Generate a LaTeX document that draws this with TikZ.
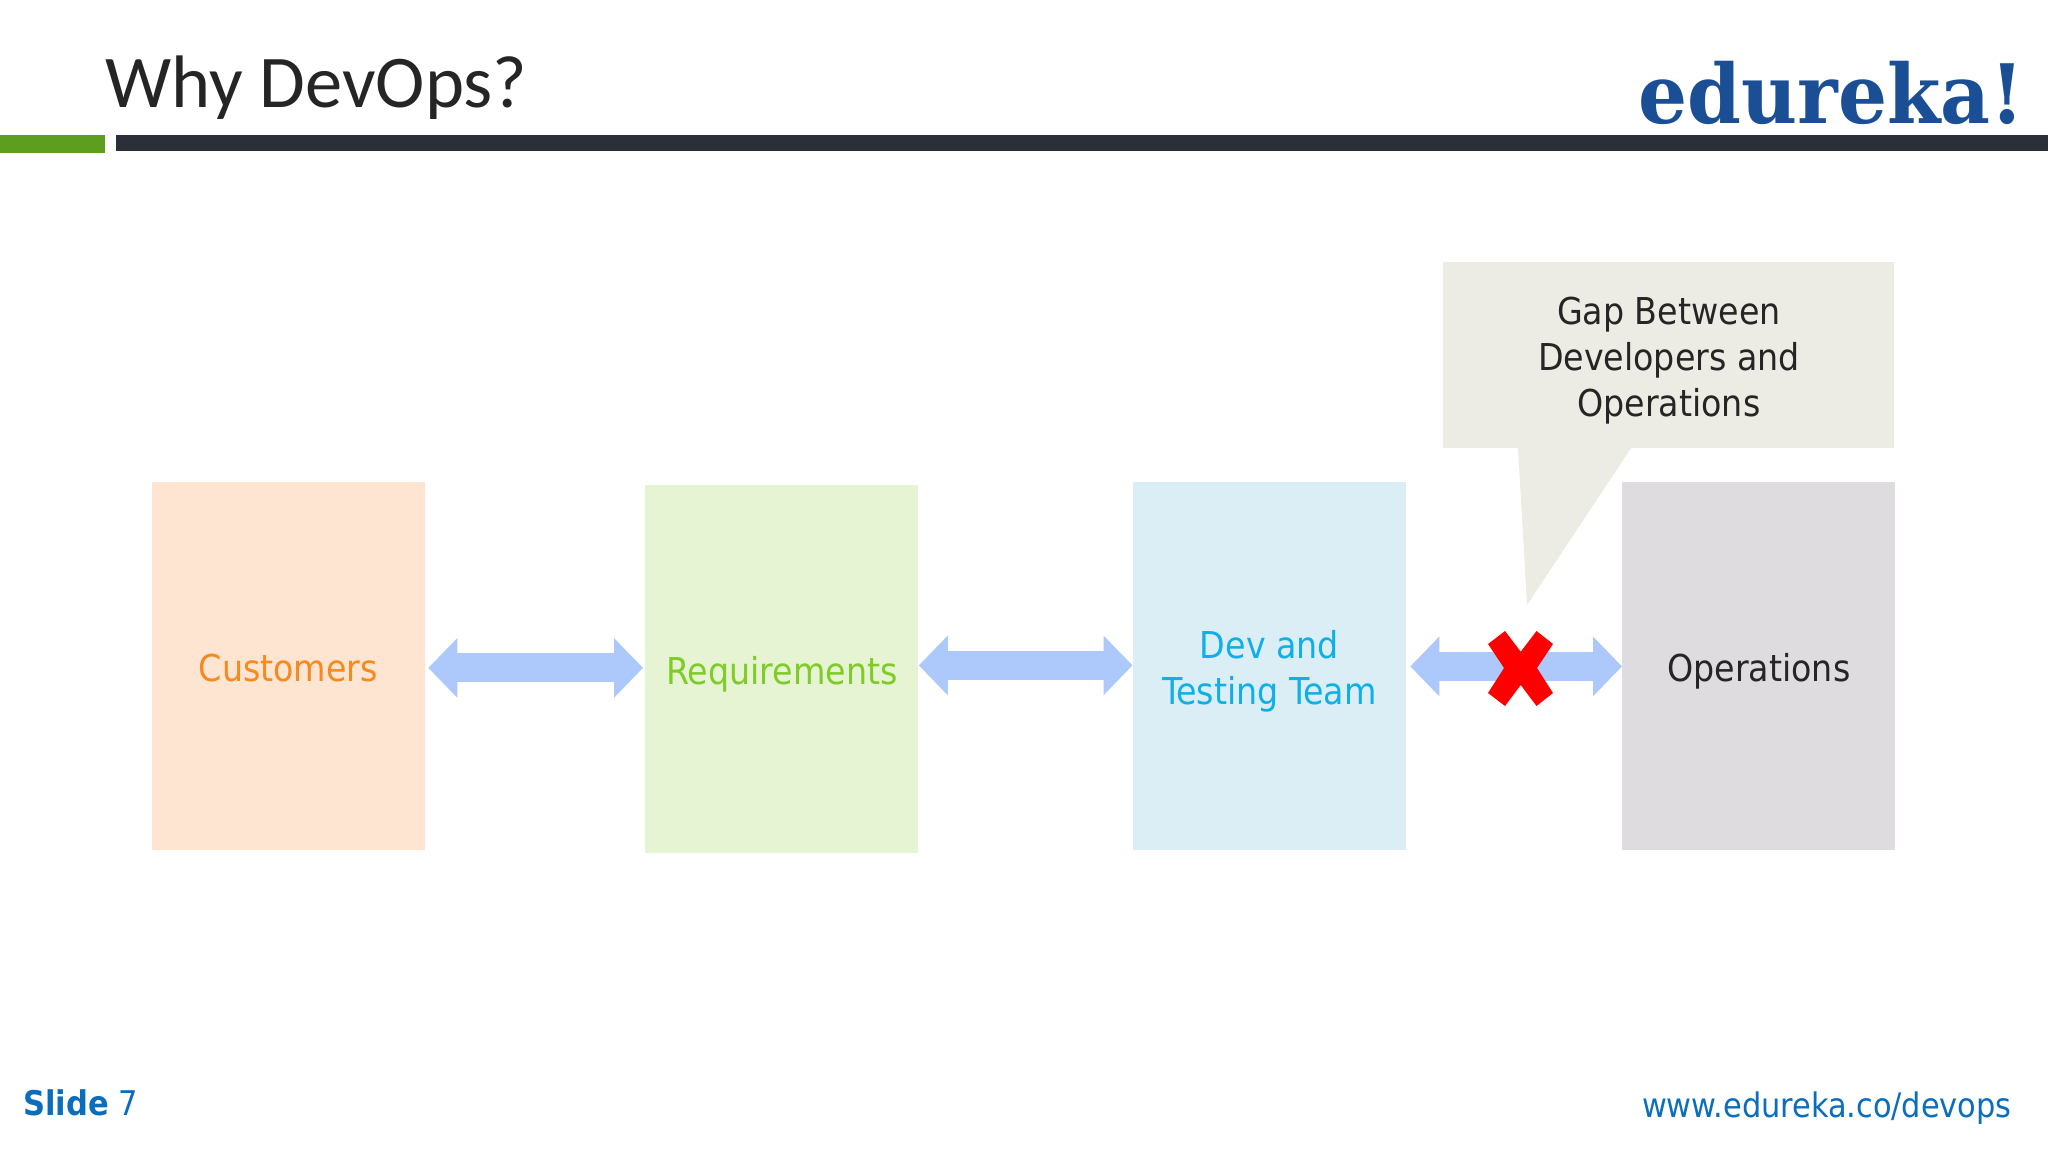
\documentclass[tikz,border=0pt]{standalone}
\usepackage{fontspec}
\usetikzlibrary{arrows.meta}
\setmainfont{DejaVu Sans Condensed}
\newfontfamily\titlefont{Carlito}
\newfontfamily\logofont[FakeStretch=0.94]{DejaVu Serif}
\definecolor{inkdark}{HTML}{252525}
\definecolor{custfill}{HTML}{FDE5D2}
\definecolor{reqfill}{HTML}{E6F4D3}
\definecolor{devfill}{HTML}{DBEDF5}
\definecolor{opsfill}{HTML}{DEDCDF}
\definecolor{gapfill}{HTML}{ECECE4}
\definecolor{arrowfill}{HTML}{ADC8FB}
\definecolor{custtext}{HTML}{F58A1F}
\definecolor{reqtext}{HTML}{7FCC28}
\definecolor{devtext}{HTML}{0FB0E8}
\definecolor{logoblue}{HTML}{1B4F95}
\definecolor{slideblue}{HTML}{0A6EBD}
\definecolor{barblack}{HTML}{2B3038}
\definecolor{bargreen}{HTML}{5E9E1E}
\tikzset{
  stage/.style={anchor=north west,minimum width=136.5pt,minimum height=184pt,inner sep=0pt,align=center,font=\fontsize{18.5}{23}\selectfont},
  oneline/.style={text height=15pt,text depth=0pt},
  link/.style={draw=arrowfill,line width=14.5pt,{Triangle[length=14.5pt,width=29pt,fill=arrowfill]}-{Triangle[length=14.5pt,width=29pt,fill=arrowfill]}},
}
\begin{document}
\begin{tikzpicture}[x=0.5pt,y=-0.5pt]
\useasboundingbox (0,0) rectangle (2048,1152);
\fill[white] (0,0) rectangle (2048,1152);
% header
\fill[bargreen] (0,135) rectangle (105,153);
\fill[barblack] (116,135) rectangle (2048,151);
\node[anchor=base west,inner sep=0pt,text=inkdark,font=\titlefont\fontsize{37.2}{37.2}\selectfont] (title) at (105,107) {Why DevOps?};
\node[anchor=base east,inner sep=0pt,text=logoblue,font=\logofont\bfseries\fontsize{41}{41}\selectfont] (logo) at (2025,123) {edureka!};
% stages
\node[stage,oneline,fill=custfill,text=custtext] (cust) at (151.5,482) {Customers};
\node[stage,oneline,fill=reqfill,text=reqtext] (req) at (645,485) {Requirements};
\node[stage,fill=devfill,text=devtext] (dev) at (1132.5,482) {\rule{0pt}{18.5pt}Dev and\\Testing Team};
\node[stage,oneline,fill=opsfill,text=inkdark] (ops) at (1622,482) {Operations};
% links
\draw[link,shorten <=1.5pt,shorten >=1pt] ([yshift=-0.75pt]cust.east) -- ([yshift=-0.75pt]req.west |- cust.east);
\draw[link] ([yshift=0.5pt]req.east |- dev.west) -- ([yshift=0.5pt]dev.west);
\draw[link,shorten <=2pt] (dev.east) -- (ops.west);
% callout
\node[anchor=north west,minimum width=225.5pt,minimum height=93pt,inner sep=0pt,align=center,fill=gapfill,text=inkdark,font=\fontsize{18.5}{23}\selectfont] (gap) at (1443,262) {\rule{0pt}{19pt}Gap Between\\Developers and\\Operations};
\coordinate (tip) at (1527,605);
\fill[gapfill] (1517.9,446) -- (tip) -- (1632.4,446) -- cycle;
% red cross
\fill[red] (1505,631) -- (1520.7,651.7) -- (1536.5,631) -- (1553,644) -- (1537,668) -- (1553,693) -- (1536.5,706) -- (1520.7,685) -- (1505,706) -- (1488,693) -- (1504,668) -- (1488,644) -- cycle;
% footer
\node[anchor=base west,inner sep=0pt,text=slideblue,font=\fontsize{17}{17}\selectfont] (slide) at (23,1115) {\textbf{Slide} 7};
\node[anchor=base east,inner sep=0pt,text=slideblue,font=\fontsize{16.9}{17}\selectfont] (url) at (2012,1117) {www.edureka.co/devops};
\end{tikzpicture}
\end{document}
